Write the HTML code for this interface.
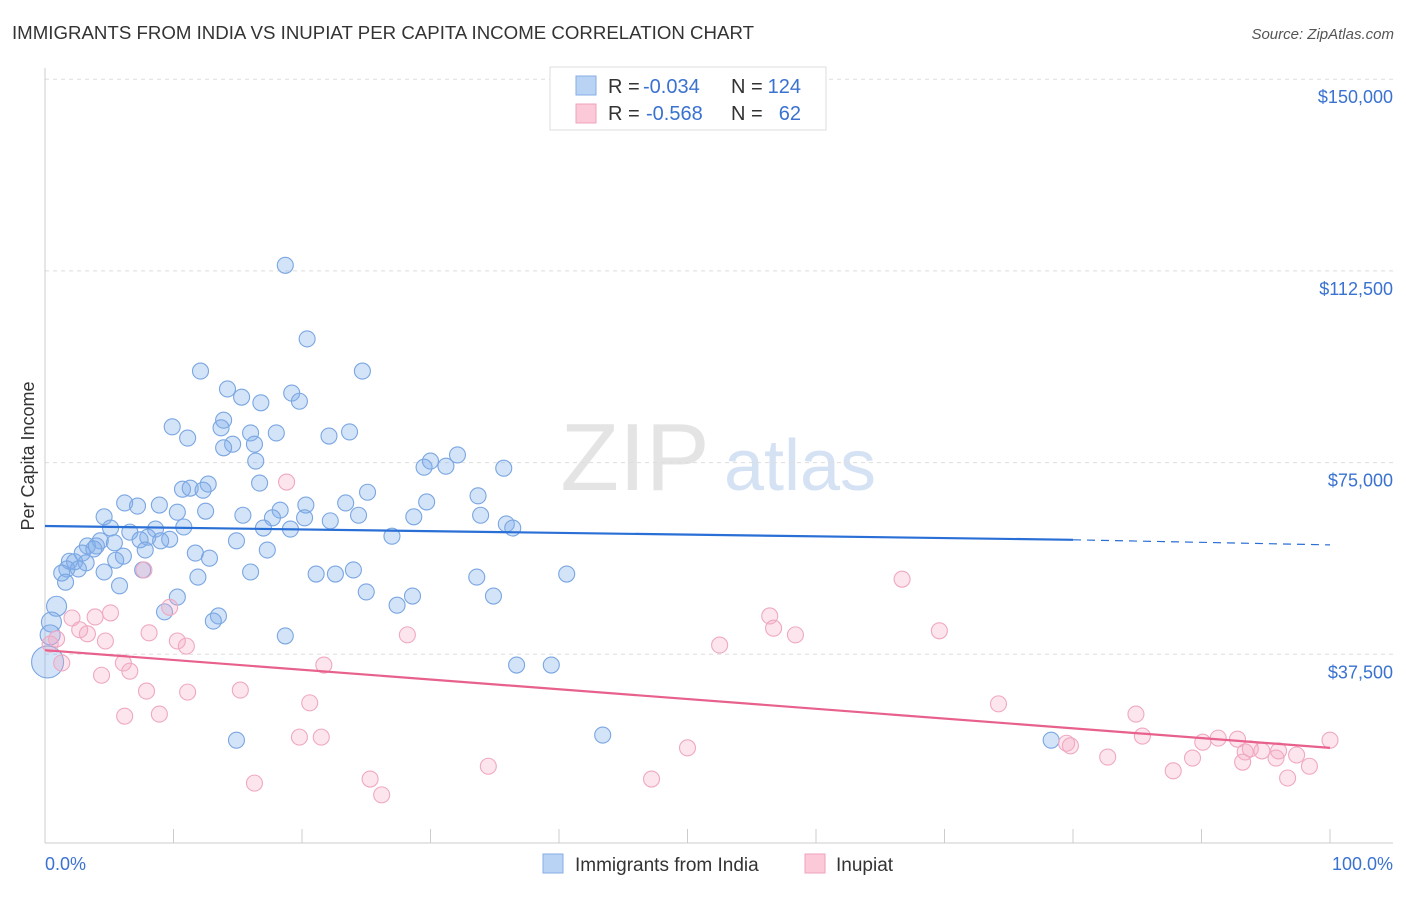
<!DOCTYPE html>
<html><head><meta charset="utf-8"><style>
body{margin:0;background:#fff;font-family:"Liberation Sans",sans-serif;}
svg text{font-family:"Liberation Sans",sans-serif;}
</style></head><body>
<svg id="chart" width="1406" height="892">
<text x="12" y="39" font-size="18" fill="#333" textLength="742" lengthAdjust="spacingAndGlyphs">IMMIGRANTS FROM INDIA VS INUPIAT PER CAPITA INCOME CORRELATION CHART</text>
<text x="1394" y="39" font-size="15" fill="#555" font-style="italic" text-anchor="end">Source: ZipAtlas.com</text>
<text x="34" y="456" font-size="18" fill="#333" text-anchor="middle" transform="rotate(-90 34 456)">Per Capita Income</text>
<g><text x="635" y="490" font-size="96" fill="#e4e4e4" font-family="Liberation Serif" text-anchor="middle">ZIP</text><text x="800" y="490" font-size="72" fill="#d4e2f4" text-anchor="middle">atlas</text></g>
<g id="grid"></g><g id="marks"></g>
<g>
<rect x="550" y="67" width="276" height="63" fill="#fff" stroke="#ddd"/>
<rect x="576" y="76" width="20" height="19" fill="#b9d3f5" stroke="#86aee6"/>
<rect x="576" y="104" width="20" height="19" fill="#fbc9d8" stroke="#f2a3bd"/>
<text x="608" y="93" font-size="20" fill="#333">R =</text>
<text x="643" y="93" font-size="20" fill="#3a72d0">-0.034</text>
<text x="731" y="93" font-size="20" fill="#333">N =</text>
<text x="801" y="93" font-size="20" fill="#3a72d0" text-anchor="end">124</text>
<text x="608" y="120" font-size="20" fill="#333">R =</text>
<text x="646" y="120" font-size="20" fill="#3a72d0">-0.568</text>
<text x="731" y="120" font-size="20" fill="#333">N =</text>
<text x="801" y="120" font-size="20" fill="#3a72d0" text-anchor="end">62</text>
</g>
<g>
<rect x="543" y="854" width="20" height="19" fill="#b9d3f5" stroke="#86aee6"/>
<text x="575" y="871" font-size="19" fill="#333">Immigrants from India</text>
<rect x="805" y="854" width="20" height="19" fill="#fbc9d8" stroke="#f2a3bd"/>
<text x="836" y="871" font-size="19" fill="#333">Inupiat</text>
</g>
<text x="45" y="870" font-size="18" fill="#3a72d0">0.0%</text>
<text x="1393" y="870" font-size="18" fill="#3a72d0" text-anchor="end">100.0%</text>
</svg>
<script>
const yTicks=[37.5,75,112.5,150];
const yTickLabels=["$37,500","$75,000","$112,500","$150,000"];
const xTicks=[0,10,20,30,40,50,60,70,80,90,100];
const bluePct=[18.7,20.4,24.7,12.1,14.2,19.2,15.3,19.8,16.8,13.9,9.9,13.7,23.7,16.0,18.0,22.1,11.1,14.6,16.3,13.9,32.1,16.4,30.0,31.2,29.5,35.7,16.7,12.7,10.7,11.3,12.3,25.1,33.7,29.7,6.2,8.9,7.2,20.3,23.4,18.3,12.5,10.3,15.4,24.4,33.9,4.6,28.7,17.7,20.2,22.2,35.9,5.1,10.8,17.0,19.1,36.4,8.6,6.6,8.0,27.0,9.7,7.4,9.0,14.9,4.3,3.3,4.0,5.4,3.8,7.8,17.3,11.7,2.9,6.1,5.5,12.8,1.9,2.3,3.2,1.7,2.6,1.3,4.6,7.6,16.0,21.1,22.6,24.0,40.6,11.9,33.6,1.6,5.8,25.0,10.3,34.9,28.6,27.4,0.9,9.3,13.5,13.1,0.5,0.4,18.7,36.7,39.4,0.2,43.4,78.3,14.9];
const blueVal=[113.6,99.2,92.9,92.9,89.4,88.6,87.8,87.0,86.7,83.3,82.0,81.8,81.0,80.8,80.8,80.2,79.8,78.6,78.6,77.9,76.5,75.3,75.3,74.3,74.1,73.9,71.0,70.8,69.8,70.0,69.6,69.2,68.5,67.3,67.1,66.7,66.5,66.7,67.1,65.7,65.5,65.3,64.7,64.7,64.7,64.4,64.4,64.2,64.2,63.6,63.0,62.2,62.4,62.2,62.0,62.2,62.0,61.4,60.4,60.6,60.0,59.9,59.7,59.7,59.7,58.7,58.7,59.3,58.1,57.9,57.9,57.3,57.3,56.7,55.9,56.3,55.7,55.6,55.4,54.2,54.2,53.4,53.6,54.0,53.6,53.2,53.2,54.0,53.2,52.6,52.6,51.6,50.9,49.7,48.7,48.9,48.9,47.1,46.9,45.8,45.0,44.0,43.8,41.3,41.1,35.4,35.4,36.0,21.7,20.7,20.7];
const pinkPct=[18.8,66.7,7.7,9.7,5.1,3.9,2.1,56.4,56.7,69.6,58.4,28.2,2.7,3.3,8.1,0.9,4.7,10.3,11.0,52.5,0.4,6.1,1.3,21.7,6.6,4.4,7.9,11.1,15.2,20.6,74.2,6.2,8.9,84.9,19.8,21.5,85.4,91.3,92.8,100,90.1,79.5,79.8,50.0,93.8,94.7,96.0,93.4,97.4,82.7,89.3,95.8,93.2,34.5,98.4,87.8,96.7,47.2,25.3,16.3,26.2];
const pinkVal=[71.2,52.2,54.0,46.7,45.6,44.8,44.6,45.0,42.6,42.1,41.3,41.3,42.3,41.5,41.7,40.5,40.1,40.1,39.1,39.3,39.5,35.8,35.8,35.4,34.2,33.4,30.3,30.1,30.5,28.0,27.8,25.4,25.8,25.8,21.3,21.3,21.5,21.1,20.9,20.7,20.3,20.1,19.6,19.2,19.0,18.6,18.6,18.4,17.8,17.4,17.2,17.2,16.4,15.6,15.6,14.7,13.3,13.1,13.1,12.3,10.0];
const blueTrendPct=[0,80,100];
const blueTrendVal=[62.6,59.9,58.9];
const pinkTrendPct=[0,100];
const pinkTrendVal=[38.3,19.2];
const NS="http://www.w3.org/2000/svg";
const X=p=>45+p*12.85, Y=v=>846-v*5.112;
function mk(parent,tag,attrs){const e=document.createElementNS(NS,tag);for(const k in attrs)e.setAttribute(k,attrs[k]);parent.appendChild(e);return e;}
const grid=document.getElementById('grid'),marks=document.getElementById('marks');
yTicks.forEach((t,i)=>{
 const l=mk(grid,'line',{x1:45,x2:1393,y1:Y(t),y2:Y(t),stroke:'#ddd','stroke-dasharray':'4,4'});
 
 
 const tx=mk(grid,'text',{x:1393,y:Y(t)+24,'font-size':18,fill:'#3a72d0','text-anchor':'end'});
 tx.textContent=yTickLabels[i];
 
 
});
const ax=mk(grid,'line',{x1:45,x2:1393,y1:843,y2:843,stroke:'#ccc'});


const ay=mk(grid,'line',{x1:45,x2:45,y1:68,y2:843,stroke:'#ccc'});


xTicks.forEach(t=>{const l=mk(grid,'line',{x1:X(t),x2:X(t),y1:829,y2:843,stroke:'#ccc'});
 
 });
bluePct.forEach((p,i)=>{const c=mk(marks,'circle',{cx:X(p),cy:Y(blueVal[i]),r:p<1?(blueVal[i]<37?16:10):8,fill:'rgba(130,175,235,0.35)',stroke:'#7aa6e2','stroke-width':1.1});
 
 });
pinkPct.forEach((p,i)=>{const c=mk(marks,'circle',{cx:X(p),cy:Y(pinkVal[i]),r:8,fill:'rgba(245,170,195,0.3)',stroke:'#f0a8c2','stroke-width':1.1});
 
 });
const b1=mk(marks,'line',{x1:X(blueTrendPct[0]),y1:Y(blueTrendVal[0]),x2:X(blueTrendPct[1]),y2:Y(blueTrendVal[1]),stroke:'#2a6fd6','stroke-width':2.2});


const b2=mk(marks,'line',{x1:X(blueTrendPct[1]),y1:Y(blueTrendVal[1]),x2:X(blueTrendPct[2]),y2:Y(blueTrendVal[2]),stroke:'#2a6fd6','stroke-width':1.2,'stroke-dasharray':'8,6'});


const p1=mk(marks,'line',{x1:X(pinkTrendPct[0]),y1:Y(pinkTrendVal[0]),x2:X(pinkTrendPct[1]),y2:Y(pinkTrendVal[1]),stroke:'#e8608c','stroke-width':2.2});


</script>
</body></html>
